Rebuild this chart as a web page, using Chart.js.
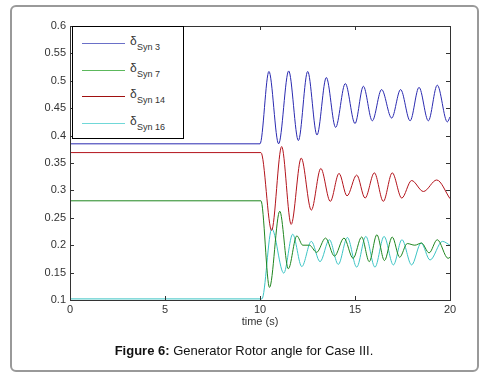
<!DOCTYPE html>
<html>
<head>
<meta charset="utf-8">
<script src="https://cdn.jsdelivr.net/npm/chart.js@4/dist/chart.umd.min.js"></script>
<style>
  body { margin: 0; background: #fff; font-family: "Liberation Sans", Arial, sans-serif; }
  #wrap { position: relative; width: 488px; height: 379px; }
  #frame { position: absolute; left: 10px; top: 5px; width: 465px; height: 363px; border: 2px solid #999; border-radius: 6px; }
  canvas { position: absolute; left: 0; top: 0; }
  #legend { position: absolute; left: 72px; top: 26px; width: 110px; height: 111px; border: 1px solid #000; background: #fff; }
  .row { position: absolute; left: 0; width: 110px; height: 20px; }
  .row .ln { position: absolute; left: 9px; width: 43px; height: 1px; top: 10px; }
  .row .d { position: absolute; left: 57px; top: 1px; font-size: 12px; color: #333; }
  .row .s { position: absolute; left: 64px; top: 9px; font-size: 9px; color: #333; white-space: nowrap; }
  #caption { position: absolute; left: 0; width: 488px; top: 343px; text-align: center; font-size: 13px; color: #111; }
</style>
</head>
<body>
<div id="wrap">
  <div id="frame"></div>
  <canvas id="grafico" width="488" height="379"></canvas>
  <div id="legend"></div>
  <div id="caption"><b>Figure 6:</b> Generator Rotor angle for Case III.</div>
</div>
<script>
// rotor angle traces (time in s, angle)
const syn3Time  = [0, 10.0, 10.47, 10.98, 11.51, 12.02, 12.51, 13.0, 13.49, 13.98, 14.49, 15.0, 15.44, 15.91, 16.4, 16.93, 17.4, 17.9, 18.37, 18.86, 19.33, 19.86, 20];
const syn3Angle = [0.385, 0.385, 0.517, 0.385, 0.518, 0.391, 0.517, 0.401, 0.506, 0.415, 0.495, 0.422, 0.490, 0.427, 0.484, 0.432, 0.484, 0.427, 0.488, 0.427, 0.492, 0.425, 0.434];

const syn7Time  = [0, 10.05, 10.5, 11.04, 11.49, 11.94, 12.25, 12.6, 12.98, 13.45, 13.92, 14.42, 14.9, 15.35, 15.75, 16.15, 16.55, 16.96, 17.35, 17.75, 18.15, 18.5, 18.9, 19.33, 19.9, 20];
const syn7Angle = [0.281, 0.281, 0.123, 0.262, 0.157, 0.217, 0.200, 0.200, 0.187, 0.213, 0.180, 0.213, 0.176, 0.215, 0.170, 0.219, 0.172, 0.215, 0.178, 0.203, 0.200, 0.204, 0.186, 0.210, 0.176, 0.178];

const syn14Time  = [0, 10.05, 10.61, 11.14, 11.64, 12.17, 12.7, 13.2, 13.7, 14.16, 14.58, 15.09, 15.53, 16.02, 16.49, 16.96, 17.46, 17.98, 18.6, 19.3, 20];
const syn14Angle = [0.369, 0.369, 0.227, 0.380, 0.238, 0.359, 0.264, 0.340, 0.280, 0.331, 0.290, 0.328, 0.286, 0.332, 0.280, 0.332, 0.286, 0.318, 0.298, 0.319, 0.285];

const syn16Time  = [0, 10.1, 10.62, 11.25, 11.72, 12.2, 12.7, 13.16, 13.65, 14.12, 14.6, 15.09, 15.57, 16.05, 16.53, 17.02, 17.47, 17.98, 18.48, 18.95, 19.6, 20];
const syn16Angle = [0.102, 0.102, 0.230, 0.149, 0.220, 0.161, 0.207, 0.170, 0.210, 0.165, 0.214, 0.160, 0.216, 0.160, 0.216, 0.164, 0.210, 0.164, 0.204, 0.173, 0.207, 0.200];

const seriesNames  = ["Syn 3", "Syn 7", "Syn 14", "Syn 16"];
const lineColors   = ["#2a2ab0", "#1f861f", "#b3141c", "#3cc4c4"];
const legendColors = ["#6a70c8", "#5cb85c", "#a01010", "#70d8d8"];

const xTicks = [0, 5, 10, 15, 20];
const yTicks = [0.1, 0.15, 0.2, 0.25, 0.3, 0.35, 0.4, 0.45, 0.5, 0.55, 0.6];

const pares = (t, v) => t.map((x, i) => ({ x: x, y: v[i] }));
const series = [
  pares(syn3Time, syn3Angle),
  pares(syn7Time, syn7Angle),
  pares(syn14Time, syn14Angle),
  pares(syn16Time, syn16Angle)
];

// box round the plot with inward ticks, matlab style
const cajaPlugin = {
  id: "caja",
  afterDraw(chart) {
    const { ctx, chartArea: a, scales } = chart;
    ctx.save();
    ctx.strokeStyle = "#333";
    ctx.lineWidth = 1;
    ctx.strokeRect(a.left + 0.5, a.top + 0.5, a.right - a.left, a.bottom - a.top);
    ctx.beginPath();
    xTicks.forEach(v => {
      const px = Math.round(scales.x.getPixelForValue(v)) + 0.5;
      ctx.moveTo(px, a.bottom); ctx.lineTo(px, a.bottom - 4);
      ctx.moveTo(px, a.top); ctx.lineTo(px, a.top + 4);
    });
    yTicks.forEach(v => {
      const py = Math.round(scales.y.getPixelForValue(v)) + 0.5;
      ctx.moveTo(a.left, py); ctx.lineTo(a.left + 4, py);
      ctx.moveTo(a.right, py); ctx.lineTo(a.right - 4, py);
    });
    ctx.stroke();
    ctx.restore();
  }
};

new Chart(document.getElementById("grafico").getContext("2d"), {
  type: "line",
  data: {
    datasets: series.map((d, i) => ({
      label: seriesNames[i],
      data: d,
      borderColor: lineColors[i],
      borderWidth: 1,
      pointRadius: 0,
      fill: false,
      cubicInterpolationMode: "monotone"
    }))
  },
  options: {
    responsive: false,
    animation: false,
    layout: { padding: { left: 0, top: 26, right: 38, bottom: 49 } },
    plugins: { legend: { display: false }, tooltip: { enabled: false } },
    scales: {
      x: {
        type: "linear",
        min: 0, max: 20,
        afterBuildTicks: s => { s.ticks = xTicks.map(v => ({ value: v })); },
        afterFit: s => { s.height = 30; },
        grid: { display: false, drawTicks: false },
        border: { display: false },
        ticks: { color: "#333", font: { family: "Liberation Sans", size: 11 }, padding: 3, maxRotation: 0 },
        title: { display: true, text: "time (s)", color: "#333", font: { family: "Liberation Sans", size: 11 }, padding: { top: 0, bottom: 1 } }
      },
      y: {
        type: "linear",
        min: 0.1, max: 0.6,
        afterBuildTicks: s => { s.ticks = yTicks.map(v => ({ value: v })); },
        afterFit: s => { s.width = 70; },
        grid: { display: false, drawTicks: false },
        border: { display: false },
        ticks: { color: "#333", font: { family: "Liberation Sans", size: 11 }, padding: 4, callback: v => String(v) }
      }
    }
  },
  plugins: [cajaPlugin]
});

// legend inside the plot
const leyenda = document.getElementById("legend");
const filasY = [6, 33, 59, 86];
seriesNames.forEach((n, i) => {
  const fila = document.createElement("div");
  fila.className = "row";
  fila.style.top = filasY[i] + "px";
  fila.innerHTML = `<div class="ln" style="background:${legendColors[i]}"></div><span class="d">δ</span><span class="s">${n}</span>`;
  leyenda.appendChild(fila);
});
</script>
</body>
</html>
